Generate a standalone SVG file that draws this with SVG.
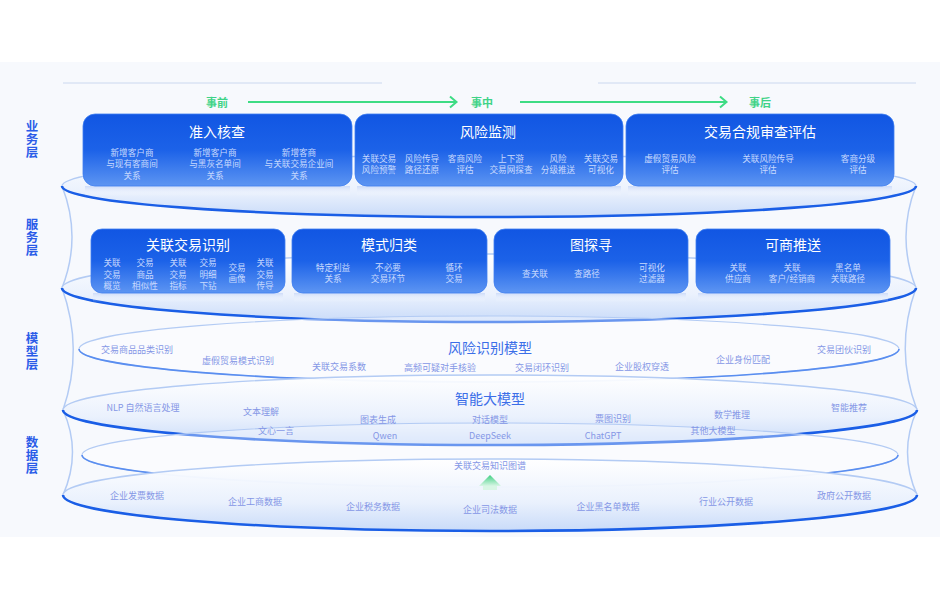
<svg xmlns="http://www.w3.org/2000/svg" width="940" height="600" viewBox="0 0 940 600">
<defs>
  <linearGradient id="gCard" x1="0" y1="0" x2="0" y2="1">
    <stop offset="0" stop-color="#1156e3"/>
    <stop offset="0.5" stop-color="#1c62e8"/>
    <stop offset="1" stop-color="#5d95f2"/>
  </linearGradient>
  <linearGradient id="gDisc" x1="0" y1="0" x2="0" y2="1">
    <stop offset="0" stop-color="#ffffff" stop-opacity="0.95"/>
    <stop offset="0.6" stop-color="#eaf1fd"/>
    <stop offset="1" stop-color="#c9dbf9"/>
  </linearGradient>
  <linearGradient id="gGreen" x1="0" y1="0" x2="0" y2="1">
    <stop offset="0" stop-color="#3fcf82"/>
    <stop offset="1" stop-color="#d8f6e5"/>
  </linearGradient>
  <linearGradient id="gRefl" x1="0" y1="0" x2="0" y2="1">
    <stop offset="0" stop-color="#c9d9f8" stop-opacity="0.9"/>
    <stop offset="1" stop-color="#ffffff" stop-opacity="0"/>
  </linearGradient>
  <style>
    text { font-family: "Noto Sans CJK SC", "Noto Sans", sans-serif; }
    .card { fill: url(#gCard); stroke: #3f7ff0; stroke-width: 0.8; }
    .refl { fill: url(#gRefl); }
    .t1 { fill: #ffffff; font-size: 14px; text-anchor: middle; }
    .s1 { fill: #c9dafe; font-size: 8.6px; text-anchor: middle; }
    .lay { fill: #2a5ce8; font-size: 12.5px; font-weight: bold; text-anchor: middle; writing-mode: vertical-rl; letter-spacing: 0.5px; }
    .gr { fill: #3fd387; font-size: 11px; font-weight: bold; text-anchor: middle; }
    .mt { fill: #3b6ee8; font-size: 14px; text-anchor: middle; }
    .mi { fill: #8597e6; font-size: 9px; text-anchor: middle; }
    .discTop { fill: url(#gDisc); stroke: #b3cbf4; stroke-width: 1.4; }
    .ring { fill: #ffffff; fill-opacity: 0.35; stroke: #b3cbf4; stroke-width: 1.1; }
    .bottomDark { fill: none; stroke: #1a5ee6; stroke-width: 2.6; }
    .bottomMid { fill: none; stroke: #5a8ef0; stroke-width: 1.6; }
    .side { fill: none; stroke: #b3cbf4; stroke-width: 1.5; }
    .gline { fill: none; stroke: #3ddc84; stroke-width: 2; }
    .hline { fill: none; stroke: #cbd8ef; stroke-width: 1; }
  </style>
</defs>

<rect x="0" y="0" width="940" height="600" fill="#ffffff"/>
<rect x="0" y="62" width="940" height="475" fill="#f7f9fd"/>

<!-- layer labels -->
<g id="layer-labels">
  <text class="lay" x="32" y="139">业务层</text>
  <text class="lay" x="32" y="237">服务层</text>
  <text class="lay" x="32" y="351">模型层</text>
  <text class="lay" x="32" y="455">数据层</text>
</g>

<!-- header lines -->
<line class="hline" x1="63" y1="83" x2="382" y2="83"/>
<line class="hline" x1="598" y1="83" x2="916" y2="83"/>

<!-- side walls -->
<g id="walls">
  <path class="side" d="M62,186 Q82,237 62,288"/>
  <path class="side" d="M62,288 Q84,349 63,410"/>
  <path class="side" d="M63,410 Q82,452 63,495"/>
  <path class="side" d="M916,186 Q896,237 916,288"/>
  <path class="side" d="M916,288 Q894,349 917,410"/>
  <path class="side" d="M917,410 Q898,452 917,495"/>
</g>

<!-- discs -->
<g id="disc-business">
  <ellipse class="discTop" cx="489" cy="186" rx="427" ry="31"/>
  <path class="bottomDark" d="M62,186 A427,31 0 0 0 916,186"/>
</g>
<g id="disc-service">
  <ellipse class="discTop" cx="489" cy="288" rx="427" ry="34"/>
  <path class="bottomDark" d="M62,288 A427,34 0 0 0 916,288"/>
</g>
<g id="ring-risk-model">
  <ellipse class="ring" cx="489" cy="349" rx="410" ry="33"/>
  <path class="bottomMid" d="M79,349 A410,33 0 0 0 899,349"/>
</g>
<g id="disc-llm">
  <ellipse class="discTop" cx="490" cy="410" rx="427" ry="35"/>
  <path class="bottomDark" d="M63,410 A427,35 0 0 0 917,410"/>
</g>
<g id="ring-kg">
  <ellipse class="ring" cx="490" cy="455" rx="408" ry="32"/>
  <path class="bottomMid" d="M82,455 A408,32 0 0 0 898,455"/>
</g>
<g id="disc-data">
  <ellipse class="discTop" cx="490" cy="495" rx="427" ry="36"/>
  <path class="bottomDark" d="M63,495 A427,36 0 0 0 917,495"/>
</g>

<!-- timeline -->
<g id="timeline-labels">
  <text class="gr" x="217" y="107">事前</text>
  <text class="gr" x="482" y="107">事中</text>
  <text class="gr" x="760" y="107">事后</text>
</g>
<g id="connectors">
  <line class="gline" x1="248" y1="102" x2="456" y2="102"/>
  <polyline class="gline" points="450,96.5 456.5,102 450,107.5"/>
  <line class="gline" x1="520" y1="102" x2="726" y2="102"/>
  <polyline class="gline" points="720,96.5 726.5,102 720,107.5"/>
  <path d="M490,475 L501,486 L479,486 Z" fill="url(#gGreen)"/>
  <rect x="483" y="486" width="14" height="4" fill="#d8f6e5"/>
</g>

<!-- business cards -->
<g id="node-zhunru">
  <rect class="refl" x="85" y="186" width="265" height="10"/>
  <rect class="card" x="83" y="114" width="269" height="72" rx="12"/>
  <text class="t1" x="217" y="137">准入核查</text>
  <text class="s1"><tspan x="132" y="156">新增客户商</tspan><tspan x="132" y="167">与现有客商间</tspan><tspan x="132" y="179">关系</tspan></text>
  <text class="s1"><tspan x="215" y="156">新增客户商</tspan><tspan x="215" y="167">与黑灰名单间</tspan><tspan x="215" y="179">关系</tspan></text>
  <text class="s1"><tspan x="299" y="156">新增客商</tspan><tspan x="299" y="167">与关联交易企业间</tspan><tspan x="299" y="179">关系</tspan></text>
</g>
<g id="node-fengxianjiance">
  <rect class="refl" x="357" y="186" width="264" height="10"/>
  <rect class="card" x="355" y="114" width="268" height="72" rx="12"/>
  <text class="t1" x="488" y="137">风险监测</text>
  <text class="s1"><tspan x="379" y="162">关联交易</tspan><tspan x="379" y="173">风险预警</tspan></text>
  <text class="s1"><tspan x="422" y="162">风险传导</tspan><tspan x="422" y="173">路径还原</tspan></text>
  <text class="s1"><tspan x="465" y="162">客商风险</tspan><tspan x="465" y="173">评估</tspan></text>
  <text class="s1"><tspan x="511" y="162">上下游</tspan><tspan x="511" y="173">交易网探查</tspan></text>
  <text class="s1"><tspan x="558" y="162">风险</tspan><tspan x="558" y="173">分级推送</tspan></text>
  <text class="s1"><tspan x="601" y="162">关联交易</tspan><tspan x="601" y="173">可视化</tspan></text>
</g>
<g id="node-hegui">
  <rect class="refl" x="628" y="186" width="264" height="10"/>
  <rect class="card" x="626" y="114" width="268" height="72" rx="12"/>
  <text class="t1" x="760" y="137">交易合规审查评估</text>
  <text class="s1"><tspan x="670" y="162">虚假贸易风险</tspan><tspan x="670" y="173">评估</tspan></text>
  <text class="s1"><tspan x="768" y="162">关联风险传导</tspan><tspan x="768" y="173">评估</tspan></text>
  <text class="s1"><tspan x="858" y="162">客商分级</tspan><tspan x="858" y="173">评估</tspan></text>
</g>

<!-- service cards -->
<g id="node-guanlianshibie">
  <rect class="refl" x="93" y="293" width="190" height="9"/>
  <rect class="card" x="91" y="229" width="194" height="64" rx="11"/>
  <text class="t1" x="188" y="250">关联交易识别</text>
  <text class="s1"><tspan x="112" y="266">关联</tspan><tspan x="112" y="278">交易</tspan><tspan x="112" y="289">概览</tspan></text>
  <text class="s1"><tspan x="145" y="266">交易</tspan><tspan x="145" y="278">商品</tspan><tspan x="145" y="289">相似性</tspan></text>
  <text class="s1"><tspan x="178" y="266">关联</tspan><tspan x="178" y="278">交易</tspan><tspan x="178" y="289">指标</tspan></text>
  <text class="s1"><tspan x="208" y="266">交易</tspan><tspan x="208" y="278">明细</tspan><tspan x="208" y="289">下钻</tspan></text>
  <text class="s1"><tspan x="237" y="271">交易</tspan><tspan x="237" y="282">画像</tspan></text>
  <text class="s1"><tspan x="265" y="266">关联</tspan><tspan x="265" y="278">交易</tspan><tspan x="265" y="289">传导</tspan></text>
</g>
<g id="node-moshiguilei">
  <rect class="refl" x="294" y="293" width="191" height="9"/>
  <rect class="card" x="292" y="229" width="195" height="64" rx="11"/>
  <text class="t1" x="389" y="250">模式归类</text>
  <text class="s1"><tspan x="333" y="271">特定利益</tspan><tspan x="333" y="282">关系</tspan></text>
  <text class="s1"><tspan x="388" y="271">不必要</tspan><tspan x="388" y="282">交易环节</tspan></text>
  <text class="s1"><tspan x="454" y="271">循环</tspan><tspan x="454" y="282">交易</tspan></text>
</g>
<g id="node-tutanxun">
  <rect class="refl" x="496" y="293" width="190" height="9"/>
  <rect class="card" x="494" y="229" width="194" height="64" rx="11"/>
  <text class="t1" x="591" y="250">图探寻</text>
  <text class="s1" x="535" y="277">查关联</text>
  <text class="s1" x="587" y="277">查路径</text>
  <text class="s1"><tspan x="652" y="271">可视化</tspan><tspan x="652" y="282">过滤器</tspan></text>
</g>
<g id="node-keshangtuisong">
  <rect class="refl" x="698" y="293" width="190" height="9"/>
  <rect class="card" x="696" y="229" width="194" height="64" rx="11"/>
  <text class="t1" x="793" y="250">可商推送</text>
  <text class="s1"><tspan x="738" y="271">关联</tspan><tspan x="738" y="282">供应商</tspan></text>
  <text class="s1"><tspan x="792" y="271">关联</tspan><tspan x="792" y="282">客户/经销商</tspan></text>
  <text class="s1"><tspan x="848" y="271">黑名单</tspan><tspan x="848" y="282">关联路径</tspan></text>
</g>

<!-- risk model -->
<g id="node-risk-model">
  <text class="mt" x="490" y="353">风险识别模型</text>
  <text class="mi" x="137" y="353">交易商品品类识别</text>
  <text class="mi" x="238" y="364">虚假贸易模式识别</text>
  <text class="mi" x="339" y="370">关联交易系数</text>
  <text class="mi" x="440" y="371">高频可疑对手核验</text>
  <text class="mi" x="542" y="371">交易闭环识别</text>
  <text class="mi" x="642" y="370">企业股权穿透</text>
  <text class="mi" x="743" y="363">企业身份匹配</text>
  <text class="mi" x="844" y="353">交易团伙识别</text>
</g>

<!-- LLM -->
<g id="node-llm">
  <text class="mt" x="490" y="404">智能大模型</text>
  <text class="mi" x="143" y="411">NLP 自然语言处理</text>
  <text class="mi" x="261" y="415">文本理解</text>
  <text class="mi" x="276" y="434">文心一言</text>
  <text class="mi" x="378" y="423">图表生成</text>
  <text class="mi" x="385" y="439">Qwen</text>
  <text class="mi" x="490" y="423">对话模型</text>
  <text class="mi" x="490" y="439">DeepSeek</text>
  <text class="mi" x="613" y="422">票图识别</text>
  <text class="mi" x="603" y="439">ChatGPT</text>
  <text class="mi" x="732" y="418">数学推理</text>
  <text class="mi" x="713" y="434">其他大模型</text>
  <text class="mi" x="849" y="411">智能推荐</text>
</g>

<!-- knowledge graph -->
<g id="node-kg">
  <text class="mi" x="490" y="469">关联交易知识图谱</text>
</g>

<!-- data -->
<g id="node-data">
  <text class="mi" x="137" y="499">企业发票数据</text>
  <text class="mi" x="255" y="505">企业工商数据</text>
  <text class="mi" x="373" y="510">企业税务数据</text>
  <text class="mi" x="490" y="513">企业司法数据</text>
  <text class="mi" x="608" y="510">企业黑名单数据</text>
  <text class="mi" x="726" y="505">行业公开数据</text>
  <text class="mi" x="844" y="499">政府公开数据</text>
</g>
</svg>
